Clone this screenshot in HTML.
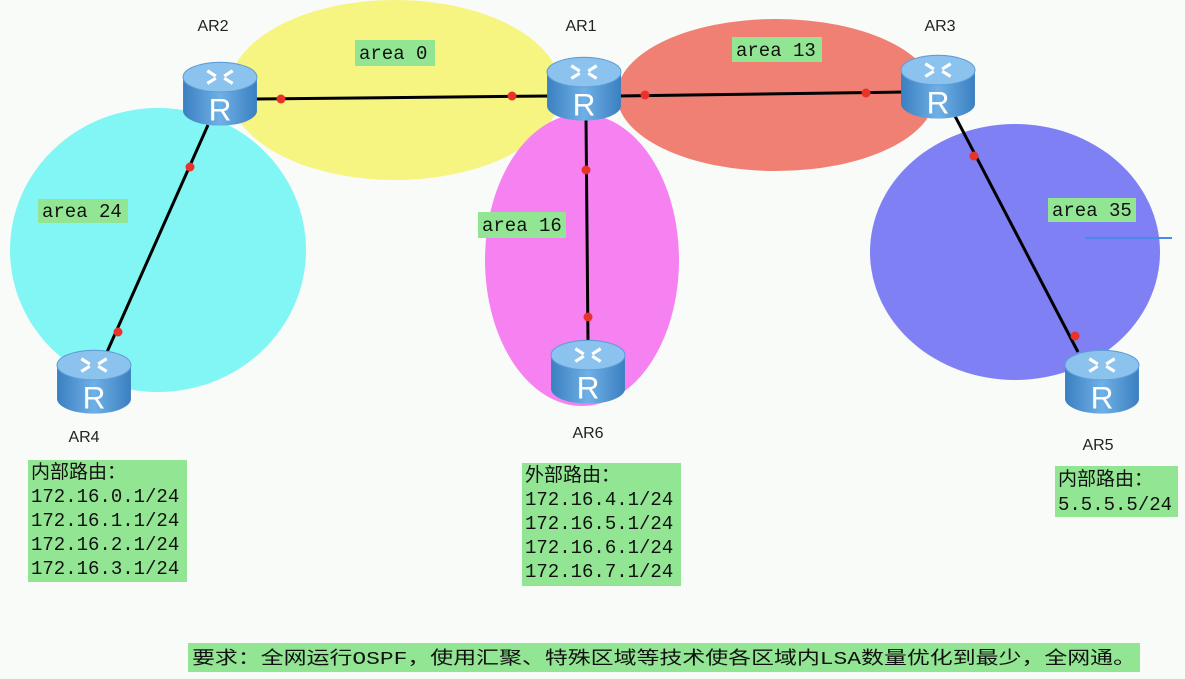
<!DOCTYPE html>
<html><head><meta charset="utf-8"><style>
html,body{margin:0;padding:0;background:#f9fbf9;}
svg{display:block}
.lbl{font-family:"Liberation Sans",sans-serif;font-size:16px;fill:#222}
.mono{font-family:"Liberation Mono","Noto Sans CJK SC",monospace;font-size:19px;fill:#111}
.cjk{font-family:"Liberation Mono","Noto Sans CJK SC",monospace;font-size:18px;fill:#111}
</style></head><body>
<svg width="1185" height="679" viewBox="0 0 1185 679" xmlns="http://www.w3.org/2000/svg">
<defs>
<linearGradient id="bd" x1="0" x2="1" y1="0" y2="0">
<stop offset="0" stop-color="#3a7fc0"/><stop offset="0.5" stop-color="#6fb0e6"/><stop offset="1" stop-color="#3a7fc0"/></linearGradient>
<symbol id="r" viewBox="0 0 72 64" width="72" height="64">
<path d="M1 16 V48 A35 14 0 0 0 71 48 V16 Z" fill="url(#bd)"/>
<ellipse cx="36" cy="16" rx="35" ry="14" fill="#8cc3ee" stroke="#5e9ed6"/>
<path d="M24 10 l8 5 M48 10 l-8 5 M24 22 l8 -5 M48 22 l-8 -5" stroke="#fff" stroke-width="3"/>
<text x="36" y="57" text-anchor="middle" font-family="Liberation Sans,sans-serif" font-size="30" fill="#fff">R</text>
</symbol>
</defs>
<ellipse cx="158" cy="250" rx="148" ry="142" fill="#82f6f4"/>
<ellipse cx="395" cy="90" rx="166" ry="90" fill="#f6f582"/>
<ellipse cx="582" cy="260" rx="97" ry="146" fill="#f682f2"/>
<ellipse cx="776" cy="95" rx="159" ry="76" fill="#f08073"/>
<ellipse cx="1015" cy="252" rx="145" ry="128" fill="#7f80f4"/>
<line x1="1085" y1="238" x2="1172" y2="238" stroke="#4a8ae8" stroke-width="2"/>
<g stroke="#000" stroke-width="3">
<line x1="256" y1="99" x2="550" y2="96"/>
<line x1="618" y1="96" x2="904" y2="92"/>
<line x1="208" y1="125" x2="107" y2="352"/>
<line x1="586" y1="118" x2="588" y2="342"/>
<line x1="955" y1="116" x2="1078" y2="352"/>
</g>
<g fill="#e8322a">
<circle cx="281" cy="99" r="4.5"/><circle cx="512" cy="96" r="4.5"/>
<circle cx="645" cy="95" r="4.5"/><circle cx="866" cy="93" r="4.5"/>
<circle cx="190" cy="167" r="4.5"/><circle cx="118" cy="332" r="4.5"/>
<circle cx="586" cy="170" r="4.5"/><circle cx="588" cy="317" r="4.5"/>
<circle cx="974" cy="156" r="4.5"/><circle cx="1075" cy="336" r="4.5"/>
</g>
<use href="#r" x="182" y="60" width="76" height="68"/>
<use href="#r" x="546" y="55" width="76" height="68"/>
<use href="#r" x="900" y="53" width="76" height="68"/>
<use href="#r" x="56" y="348" width="76" height="68"/>
<use href="#r" x="550" y="338" width="76" height="68"/>
<use href="#r" x="1064" y="348" width="76" height="68"/>
<text class="lbl" x="213" y="31" text-anchor="middle">AR2</text>
<text class="lbl" x="581" y="31" text-anchor="middle">AR1</text>
<text class="lbl" x="940" y="31" text-anchor="middle">AR3</text>
<text class="lbl" x="84" y="442" text-anchor="middle">AR4</text>
<text class="lbl" x="588" y="438" text-anchor="middle">AR6</text>
<text class="lbl" x="1098" y="450" text-anchor="middle">AR5</text>
<g fill="#92e592">
<rect x="355" y="40" width="80" height="26"/>
<rect x="732" y="37" width="90" height="25"/>
<rect x="38" y="199" width="90" height="24"/>
<rect x="478" y="212" width="88" height="26"/>
<rect x="1048" y="198" width="88" height="24"/>
<rect x="28" y="460" width="159" height="122"/>
<rect x="522" y="463" width="159" height="123"/>
<rect x="1055" y="466" width="123" height="51"/>
<rect x="188" y="643" width="952" height="29"/>
</g>
<text class="mono" x="359" y="59">area 0</text>
<text class="mono" x="736" y="56">area 13</text>
<text class="mono" x="42" y="217">area 24</text>
<text class="mono" x="482" y="231">area 16</text>
<text class="mono" x="1052" y="216">area 35</text>
<g class="mono">
<text x="31" y="478">内部路由：</text>
<text x="31" y="502">172.16.0.1/24</text>
<text x="31" y="526">172.16.1.1/24</text>
<text x="31" y="550">172.16.2.1/24</text>
<text x="31" y="574">172.16.3.1/24</text>
<text x="525" y="481">外部路由：</text>
<text x="525" y="505">172.16.4.1/24</text>
<text x="525" y="529">172.16.5.1/24</text>
<text x="525" y="553">172.16.6.1/24</text>
<text x="525" y="577">172.16.7.1/24</text>
<text x="1058" y="485">内部路由：</text>
<text x="1058" y="510">5.5.5.5/24</text>
</g>
<text class="cjk" x="192" y="664" textLength="944" lengthAdjust="spacingAndGlyphs">要求：全网运行OSPF，使用汇聚、特殊区域等技术使各区域内LSA数量优化到最少，全网通。</text>
</svg>
</body></html>
